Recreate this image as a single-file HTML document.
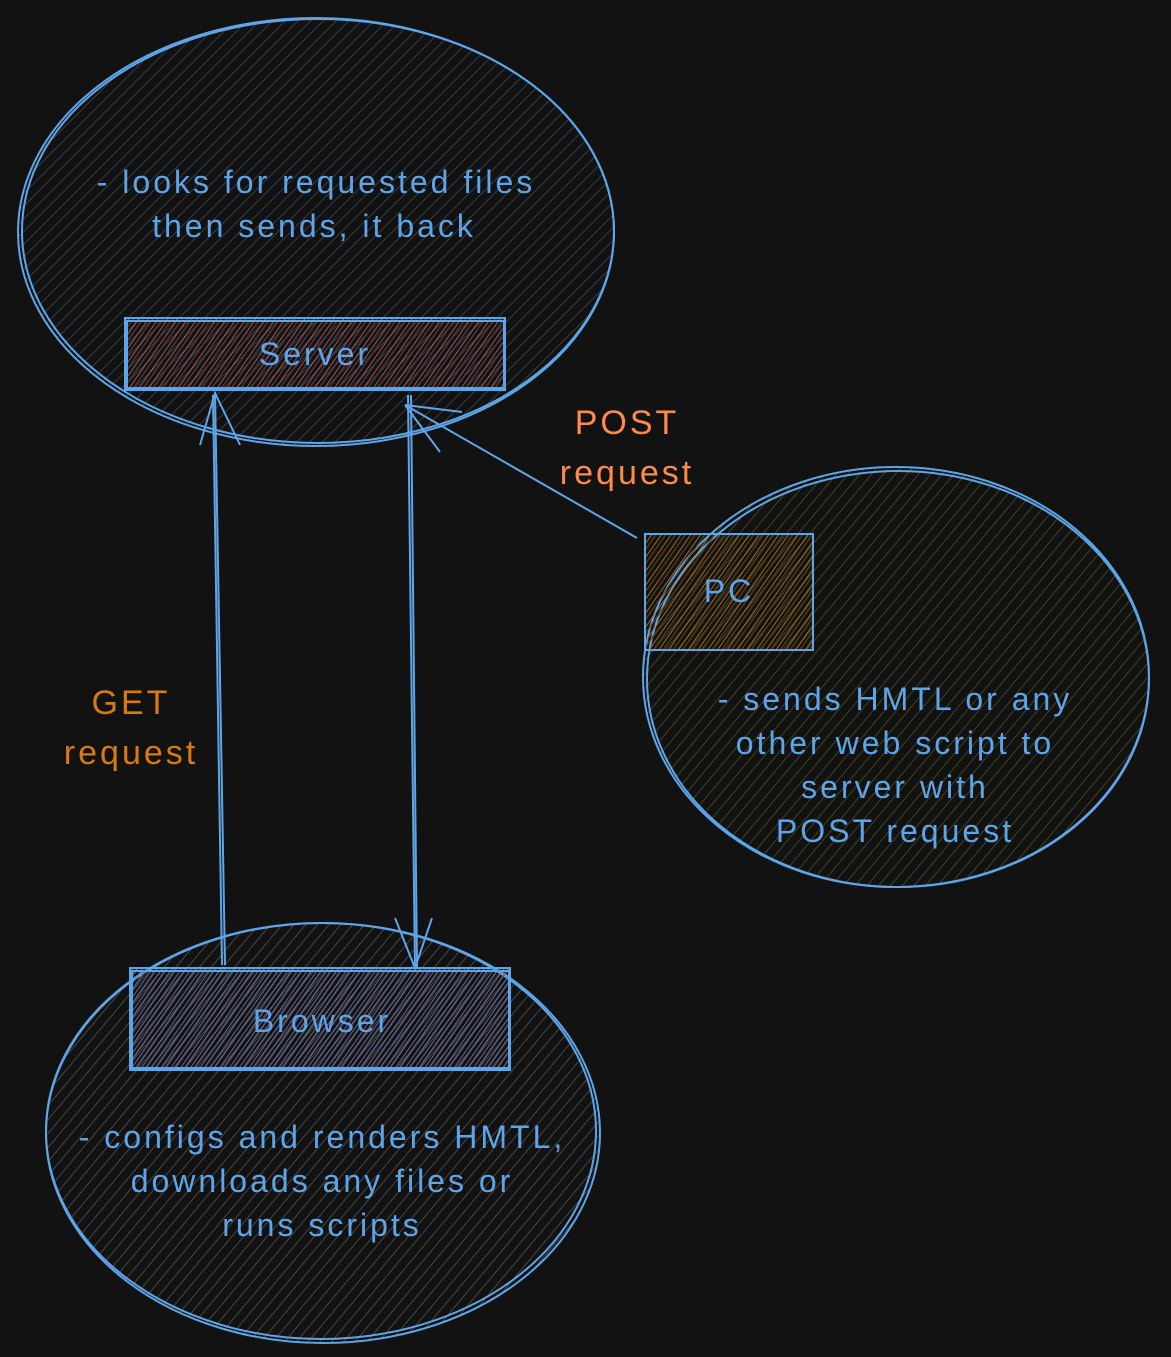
<!DOCTYPE html>
<html><head><meta charset="utf-8"><style>
html,body{margin:0;padding:0;background:#121212;}
svg{display:block}
text{font-family:"Liberation Sans",sans-serif;}
</style></head><body>
<svg width="1171" height="1357" viewBox="0 0 1171 1357" xmlns="http://www.w3.org/2000/svg">
<defs>
<pattern id="hTop" width="9" height="9" patternUnits="userSpaceOnUse" patternTransform="rotate(45)"><line x1="0" y1="0" x2="0" y2="9" stroke="#3b4047" stroke-width="1.8"/></pattern>
<pattern id="hBot" width="9" height="9" patternUnits="userSpaceOnUse" patternTransform="rotate(40)"><line x1="0" y1="0" x2="0" y2="9" stroke="#4c4c4c" stroke-width="1.8"/></pattern>
<pattern id="hRight" width="9" height="9" patternUnits="userSpaceOnUse" patternTransform="rotate(40)"><line x1="0" y1="0" x2="0" y2="9" stroke="#42421c" stroke-width="2"/></pattern>
<pattern id="hRed" width="8" height="8" patternUnits="userSpaceOnUse" patternTransform="rotate(35)"><line x1="0" y1="0" x2="0" y2="8" stroke="#e05050" stroke-width="1.7"/><line x1="4" y1="0" x2="4" y2="8" stroke="#3f444a" stroke-width="1.3"/></pattern>
<pattern id="hOrange" width="8" height="8" patternUnits="userSpaceOnUse" patternTransform="rotate(35)"><line x1="0" y1="0" x2="0" y2="8" stroke="#d06812" stroke-width="1.8"/><line x1="4" y1="0" x2="4" y2="8" stroke="#45461f" stroke-width="1.3"/></pattern>
<pattern id="hBlue" width="8" height="8" patternUnits="userSpaceOnUse" patternTransform="rotate(35)"><line x1="0" y1="0" x2="0" y2="8" stroke="#6670e0" stroke-width="1.7"/><line x1="4" y1="0" x2="4" y2="8" stroke="#666" stroke-width="1.5"/></pattern>
</defs>
<g stroke="#5ea5e8" stroke-width="2" fill="none">
<ellipse cx="316" cy="232" rx="298" ry="214" fill="url(#hTop)"/>
<ellipse cx="318" cy="231" rx="296" ry="212"/>
<ellipse cx="896" cy="677" rx="253" ry="210" fill="url(#hRight)"/>
<ellipse cx="898" cy="679" rx="251" ry="208"/>
<ellipse cx="323" cy="1133" rx="277" ry="210" fill="url(#hBot)"/>
<ellipse cx="321" cy="1131" rx="275" ry="208"/>
<rect x="125" y="318" width="380" height="72" fill="url(#hRed)"/>
<rect x="127" y="321" width="377" height="67"/>
<rect x="645" y="534" width="168" height="116" fill="url(#hOrange)"/>
<rect x="130" y="968" width="380" height="102" fill="url(#hBlue)"/>
<rect x="132" y="971" width="377" height="97"/>
<line x1="225" y1="965" x2="215" y2="393"/>
<line x1="222" y1="965" x2="213" y2="395"/>
<path d="M200 445 L215 393 L240 445"/>
<line x1="408" y1="395" x2="415" y2="968"/>
<line x1="411" y1="395" x2="417" y2="968"/>
<path d="M395 918 L415 968 L432 918"/>
<line x1="637" y1="538" x2="405" y2="405"/>
<path d="M405 405 L462 412 M405 405 L440 452"/>
</g>
<g fill="#5ea5e8" font-size="32" text-anchor="middle" letter-spacing="3">
<text x="316" y="193">- looks for requested files</text>
<text x="314" y="237">then sends, it back</text>
<text x="315" y="365">Server</text>
<text x="729" y="602">PC</text>
<text x="322" y="1032">Browser</text>
<text x="895" y="710">- sends HMTL or any</text>
<text x="895" y="754">other web script to</text>
<text x="895" y="798">server with</text>
<text x="895" y="842">POST request</text>
<text x="322" y="1148">- configs and renders HMTL,</text>
<text x="322" y="1192">downloads any files or</text>
<text x="322" y="1236">runs scripts</text>
</g>
<g font-size="34" text-anchor="middle" letter-spacing="3">
<text x="627" y="434" fill="#ff8a4a">POST</text>
<text x="627" y="484" fill="#ff8a4a">request</text>
<text x="131" y="714" fill="#d9790f">GET</text>
<text x="131" y="764" fill="#d9790f">request</text>
</g>
</svg>
</body></html>
